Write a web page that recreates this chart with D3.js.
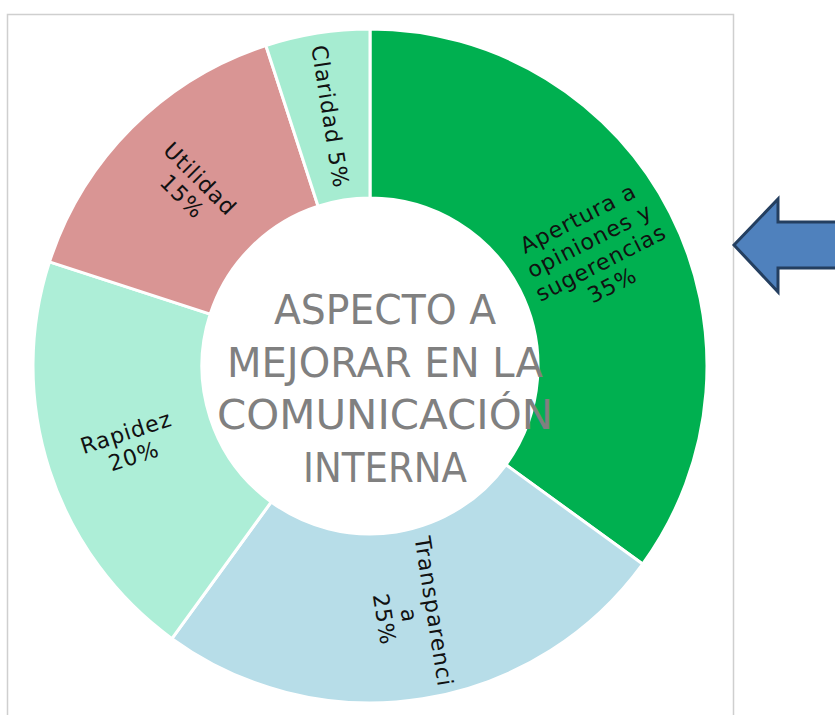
<!DOCTYPE html>
<html>
<head>
<meta charset="utf-8">
<script src="https://cdn.jsdelivr.net/npm/d3@7"></script>
<style>
  body { margin: 0; background: #fff; }
  svg { display: block; }
</style>
</head>
<body>
<svg width="835" height="715"></svg>
<script>
var width = 835;
var height = 715;

// Data, clockwise from 12 o'clock
var categories = ["Apertura a opiniones y sugerencias", "Transparencia", "Rapidez", "Utilidad", "Claridad"];
var values = [35, 25, 20, 15, 5];
var labelLines = [
    ["Apertura a", "opiniones y", "sugerencias", "35%"],
    ["Transparenci", "a", "25%"],
    ["Rapidez", "20%"],
    ["Utilidad", "15%"],
    ["Claridad 5%"]
];
var colors = ["#00b050", "#b7dde8", "#adeed7", "#d99594", "#a6ecd1"];
var titleLines = ["ASPECTO A", "MEJORAR EN LA", "COMUNICACIÓN", "INTERNA"];
var titleWidths = [222, 316, 336, 164];

var cx = 370, cy = 366;
var outerR = 337, innerR = 168;

var svg = d3.select("svg");

// frame of the chart area
svg.append("rect")
    .attr("x", 7.5)
    .attr("y", 14.5)
    .attr("width", 726)
    .attr("height", 720)
    .attr("fill", "#fff")
    .attr("stroke", "#cfcfcf")
    .attr("stroke-width", 1.5);

// arrow pointing to the chart
svg.append("polygon")
    .attr("points", "734,245 778,199 778,222 845,222 845,268 778,268 778,292")
    .attr("fill", "#4f81bd")
    .attr("stroke", "#243f60")
    .attr("stroke-width", 3)
    .attr("stroke-linejoin", "miter");

var data = categories.map((c, i) => ({ name: c, value: values[i], lines: labelLines[i], color: colors[i] }));

var pie = d3.pie().sort(null).value(d => d.value);
var arc = d3.arc().innerRadius(innerR).outerRadius(outerR);

var g = svg.append("g").attr("transform", `translate(${cx},${cy})`);

g.selectAll(".slice")
    .data(pie(data))
    .enter()
    .append("path")
    .attr("class", "slice")
    .attr("d", arc)
    .attr("fill", d => d.data.color)
    .attr("stroke", "#fff")
    .attr("stroke-width", 3);

var lineH = 25;

var labels = g.selectAll(".label")
    .data(pie(data))
    .enter()
    .append("text")
    .attr("class", "label")
    .attr("transform", d => {
        var c = arc.centroid(d);
        var mid = (d.startAngle + d.endAngle) / 2 * 180 / Math.PI;
        var rot = mid - 90;
        if (rot > 90) rot -= 180;
        return `translate(${c[0]},${c[1]}) rotate(${rot})`;
    })
    .attr("text-anchor", "middle")
    .style("font-family", "'DejaVu Sans', sans-serif")
    .style("font-size", "22px")
    .style("letter-spacing", "1px")
    .attr("fill", "#111");

labels.each(function (d) {
    var n = d.data.lines.length;
    d3.select(this).selectAll("tspan")
        .data(d.data.lines)
        .enter()
        .append("tspan")
        .attr("x", 0)
        .attr("y", (l, i) => (i - (n - 1) / 2) * lineH + 8)
        .text(l => l);
});

// center title
svg.append("g")
    .selectAll("text")
    .data(titleLines)
    .enter()
    .append("text")
    .attr("x", 385)
    .attr("y", (d, i) => 324 + i * 52.5)
    .attr("text-anchor", "middle")
    .attr("textLength", (d, i) => titleWidths[i])
    .attr("lengthAdjust", "spacingAndGlyphs")
    .style("font-family", "'DejaVu Sans', sans-serif")
    .style("font-size", "40px")
    .attr("fill", "#808080")
    .text(d => d);
</script>
</body>
</html>
